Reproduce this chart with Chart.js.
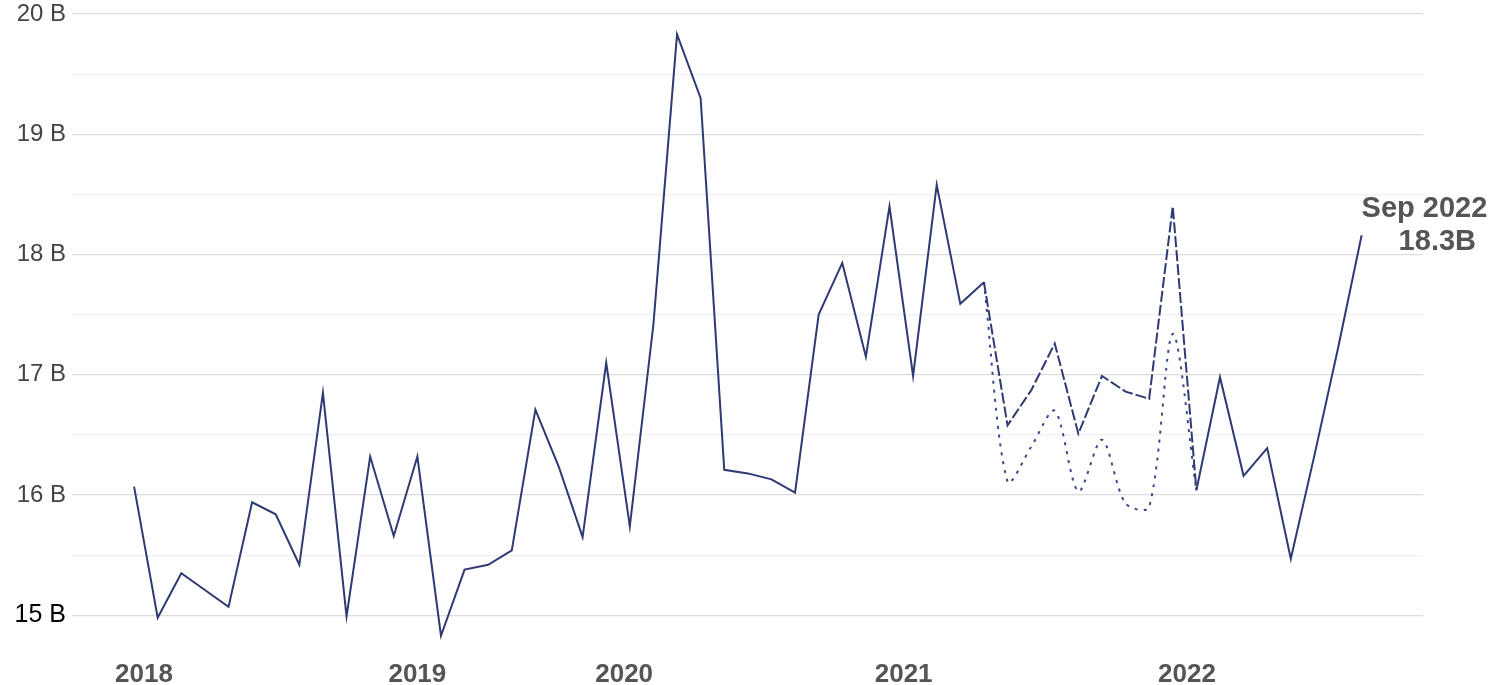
<!DOCTYPE html>
<html>
<head>
<meta charset="utf-8">
<script src="https://cdn.jsdelivr.net/npm/chart.js@4.4.1/dist/chart.umd.min.js"></script>
<style>
    html, body { margin: 0; padding: 0; background: #fff; }
    #wrap { position: relative; width: 1497px; height: 685px; }
</style>
</head>
<body>
<div id="wrap"><canvas id="lineChart"></canvas></div>
<script>
// monthly values in billions, May 2018 .. Sep 2022
const values = [
    16.07, 14.98, 15.35, 15.21, 15.07, 15.94, 15.84, 15.42, 16.85, 14.99,
    16.32, 15.66, 16.32, 14.83, 15.38, 15.42, 15.54, 16.71, 16.23, 15.65,
    17.10, 15.74, 17.42, 19.83, 19.30, 16.21, 16.18, 16.13, 16.02, 17.50,
    17.93, 17.15, 18.40, 16.99, 18.58, 17.59, 17.77, 16.58, 16.87, 17.26,
    16.51, 16.99, 16.86, 16.80, 18.40, 16.04, 16.98, 16.16, 16.39, 15.47,
    16.33, 17.22, 18.16
];

// dashed stretch of the main line (index range)
const dashFrom = 36;
const dashTo = 45;

// lower dotted line over the same stretch
const dottedStart = 36;
const dottedValues = [17.77, 16.11, 16.40, 16.70, 16.03, 16.46, 15.93, 15.90, 17.34, 16.04];

const yearLabels = ['2018', '2019', '2020', '2021', '2022'];
const yearTickAt = [0.42, 12.0, 20.76, 32.6, 44.6];

const yTickValues = [15, 15.5, 16, 16.5, 17, 17.5, 18, 18.5, 19, 19.5, 20];

const lastLabel = ['Sep 2022', '18.3B'];

const lineColor = '#2f3a74';

const mainPoints = values.map((v, i) => ({ x: i, y: v }));
const dottedPoints = dottedValues.map((v, i) => ({ x: dottedStart + i, y: v }));

const tickVal = c => (c && c.tick) ? c.tick.value : null;

const endLabelPlugin = {
    id: 'endLabel',
    afterDatasetsDraw(chart) {
        const meta = chart.getDatasetMeta(0);
        const pt = meta.data[meta.data.length - 1];
        const ctx = chart.ctx;
        ctx.save();
        ctx.font = 'bold 29px "Liberation Sans", Arial, sans-serif';
        ctx.fillStyle = '#555555';
        ctx.textAlign = 'left';
        ctx.textBaseline = 'alphabetic';
        ctx.fillText(lastLabel[0], pt.x, pt.y - 18);
        ctx.fillText(lastLabel[1], pt.x + 37, pt.y + 15);
        ctx.restore();
    }
};

const ctx = document.getElementById('lineChart').getContext('2d');
new Chart(ctx, {
    type: 'line',
    data: {
        datasets: [
            {
                data: mainPoints,
                borderColor: lineColor,
                borderWidth: 2,
                pointRadius: 0,
                tension: 0,
                fill: false,
                segment: {
                    borderDash: c => (c.p0DataIndex >= dashFrom && c.p1DataIndex <= dashTo) ? [11, 3] : undefined
                }
            },
            {
                data: dottedPoints,
                borderColor: '#3a4788',
                borderWidth: 2,
                borderDash: [3, 6],
                pointRadius: 0,
                tension: 0.3,
                fill: false
            }
        ]
    },
    options: {
        responsive: true,
        maintainAspectRatio: false,
        animation: false,
        devicePixelRatio: 1,
        layout: { padding: { top: 14, right: 74, bottom: 0, left: 0 } },
        plugins: {
            legend: { display: false },
            tooltip: { enabled: false }
        },
        scales: {
            x: {
                type: 'linear',
                min: -2.63,
                max: 54.6,
                grid: { display: false },
                border: { display: false },
                afterBuildTicks: s => { s.ticks = yearTickAt.map(v => ({ value: v })); },
                afterFit: s => { s.height = 40; s.paddingLeft = 0; s.paddingRight = 0; },
                ticks: {
                    autoSkip: false,
                    maxRotation: 0,
                    padding: 6,
                    color: '#555555',
                    font: { family: '"Liberation Sans", Arial, sans-serif', size: 26, weight: 'bold' },
                    callback: (v, i) => yearLabels[i]
                }
            },
            y: {
                type: 'linear',
                min: 14.753,
                max: 20,
                grid: {
                    color: c => Number.isInteger(tickVal(c)) ? '#dcdcdc' : '#f0f0f0',
                    lineWidth: 1.2,
                    drawTicks: false
                },
                border: { display: false },
                afterBuildTicks: s => { s.ticks = yTickValues.map(v => ({ value: v })); },
                afterFit: s => { s.width = 72; s.paddingTop = 0; s.paddingBottom = 0; },
                ticks: {
                    padding: 6,
                    color: c => tickVal(c) === 15 ? '#000000' : '#444444',
                    font: c => ({
                        family: '"Liberation Sans", Arial, sans-serif',
                        size: tickVal(c) === 15 ? 25 : 24
                    }),
                    callback: v => Number.isInteger(v) ? v + ' B' : ''
                }
            }
        }
    },
    plugins: [endLabelPlugin]
});
</script>
</body>
</html>
